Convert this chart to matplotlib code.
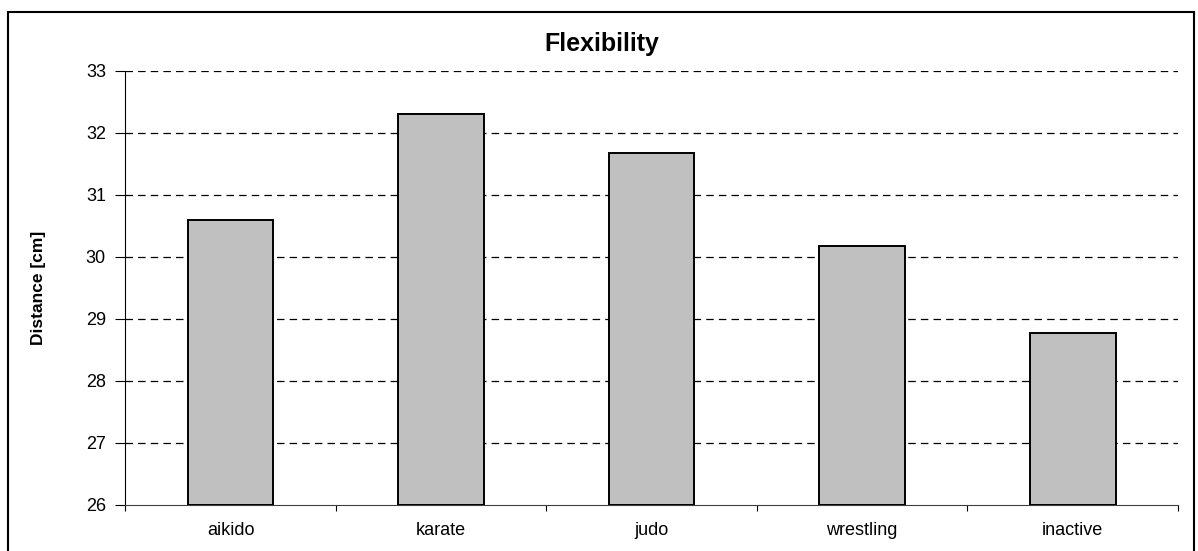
import matplotlib
matplotlib.use("Agg")
import matplotlib.pyplot as plt
from matplotlib.patches import Rectangle
import numpy as np

categories = ["aikido", "karate", "judo", "wrestling", "inactive"]
values = [30.6, 32.31, 31.68, 30.17, 28.77]
yticks = [26, 27, 28, 29, 30, 31, 32, 33]

plt.rcParams['font.family'] = ['Liberation Sans', 'DejaVu Sans']

W, H = 1198, 551
fig = plt.figure(figsize=(W / 100, H / 100), dpi=100)
ax = fig.add_axes([125.3 / W, 1 - 505 / H, (1178 - 125.3) / W, (505 - 70.7) / H])

x = np.arange(len(categories))
ax.bar(x, [v - 26 for v in values], bottom=26, width=0.407, color='#c0c0c0',
       edgecolor='black', linewidth=1.4, zorder=3)

ax.set_xlim(-0.5, len(categories) - 0.5)
ax.set_ylim(26, 33)
ax.set_yticks(yticks)
ax.set_yticklabels([str(t) for t in yticks], fontsize=13)
ax.set_xticks(x)
ax.set_xticklabels(categories, fontsize=13)
ax.tick_params(axis='x', which='major', length=0, pad=12)
ax.set_xticks(np.arange(len(categories) + 1) - 0.5, minor=True)
ax.tick_params(axis='x', which='minor', length=4, width=0.8, direction='out')
ax.tick_params(axis='y', length=7, width=0.8, direction='out', pad=7)

for t in yticks[1:]:
    ax.axhline(t, color='black', linestyle=(0, (6, 4.1)), linewidth=0.9, zorder=1)

for s in ['top', 'right']:
    ax.spines[s].set_visible(False)
ax.spines['left'].set_linewidth(0.8)
ax.spines['bottom'].set_linewidth(0.8)
ax.spines['bottom'].set_color('#404040')

ax.set_ylabel("Distance [cm]", fontsize=12.5, fontweight='bold')
ax.yaxis.set_label_coords((46 - 125.3) / (1178 - 125.3), 0.5)

fig.text(602 / W, 1 - 44 / H, "Flexibility", ha='center', va='center',
         fontsize=18, fontweight='bold')

fig.patches.append(Rectangle((8 / W, -0.02), (1194 - 8) / W, 1 - 12 / H + 0.02,
                             transform=fig.transFigure, fill=False,
                             edgecolor='black', linewidth=1.5))

fig.savefig("out.png", dpi=100)
